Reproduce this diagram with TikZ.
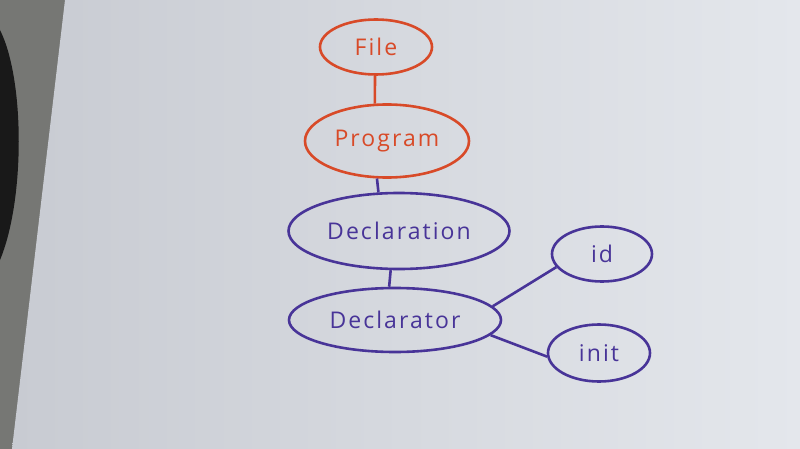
\documentclass[tikz,border=0pt]{standalone}
\usepackage{fontspec}
\setmainfont{Open Sans}
\usetikzlibrary{shapes.geometric}
\definecolor{penred}{RGB}{216,74,40}
\definecolor{penblue}{RGB}{72,52,152}
\definecolor{paperA}{RGB}{200,203,210}
\definecolor{paperB}{RGB}{228,231,236}
\definecolor{desk}{RGB}{118,119,116}
\tikzset{
  bubble/.style={ellipse, draw, line width=2.6pt, inner sep=0pt,
    font=\fontsize{23}{26}\selectfont\addfontfeature{LetterSpace=9}},
  redb/.style={bubble, draw=penred, text=penred},
  blueb/.style={bubble, draw=penblue, text=penblue},
  redl/.style={draw=penred, line width=2.6pt},
  bluel/.style={draw=penblue, line width=2.6pt}
}
\begin{document}
\begin{tikzpicture}[x=1pt,y=-1pt]
\useasboundingbox (0,0) rectangle (800,449);
\fill[desk] (0,0) rectangle (800,449);
\shade[left color=paperA, right color=paperB] (65,0) -- (800,0) -- (800,449) -- (12,449) -- cycle;
\fill[black!90] (0,30) .. controls (25,80) and (25,200) .. (0,260) -- cycle;
\node[redb, minimum width=112pt, minimum height=55pt] (file) at (376,47) {File};
\node[redb, minimum width=164pt, minimum height=73pt] (prog) at (387,141) {Program};
\node[blueb, minimum width=221pt, minimum height=76pt] (decl) at (399,231) {Declaration};
\node[blueb, minimum width=212pt, minimum height=64pt] (dtor) at (395,320) {Declarator};
\node[blueb, minimum width=100pt, minimum height=55pt] (id) at (602,254) {id};
\node[blueb, minimum width=102pt, minimum height=57pt] (init) at (599,353) {init};
\draw[redl] (file.268) -- (prog.108);
\draw[bluel] (prog.255) -- (decl.118);
\draw[bluel] (decl.258) -- (dtor.100);
\draw[bluel] (dtor.8) -- (id.196);
\draw[bluel] (dtor.-9) -- (init.184);
\end{tikzpicture}
\end{document}
